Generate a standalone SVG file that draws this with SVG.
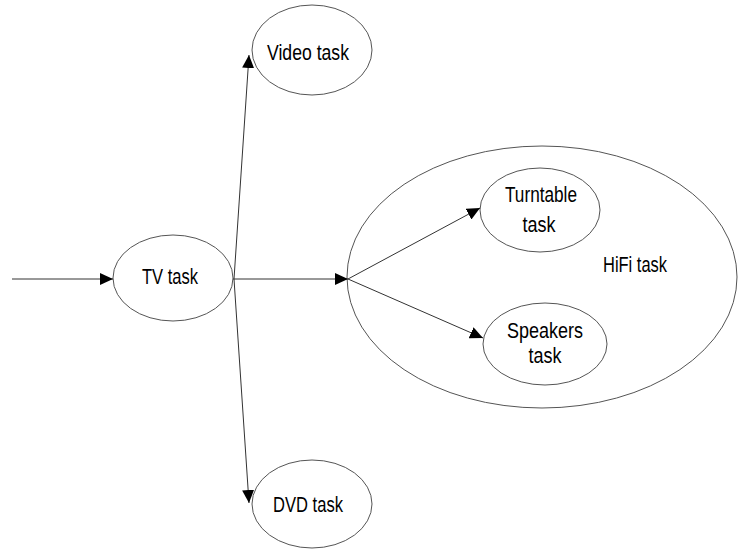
<svg xmlns="http://www.w3.org/2000/svg" width="743" height="552" viewBox="0 0 743 552">
<style>
.n{fill:#fff;stroke:#555;stroke-width:1}
.t{font-family:"Liberation Sans",Arial,sans-serif;font-size:22px;fill:#000;text-anchor:middle}
.c{stroke:#333;stroke-width:1;fill:none;marker-end:url(#ah)}
</style>
<defs>
<marker id="ah" markerUnits="userSpaceOnUse" markerWidth="14" markerHeight="12" refX="13" refY="6" orient="auto">
<path d="M0,0 L13,6 L0,12 Z" fill="#000"/>
</marker>
</defs>
<rect width="743" height="552" fill="#fff"/>
<g id="hifi"><ellipse class="n" cx="542" cy="277" rx="195" ry="131"/><text class="t" x="635" y="272" textLength="64" lengthAdjust="spacingAndGlyphs">HiFi task</text></g>
<g id="tv"><ellipse class="n" cx="173" cy="278" rx="60" ry="43"/><text class="t" x="170" y="284" textLength="56" lengthAdjust="spacingAndGlyphs">TV task</text></g>
<g id="video"><ellipse class="n" cx="312" cy="50" rx="60" ry="45"/><text class="t" x="308" y="60" textLength="82" lengthAdjust="spacingAndGlyphs">Video task</text></g>
<g id="dvd"><ellipse class="n" cx="312" cy="504" rx="60" ry="44"/><text class="t" x="308" y="512" textLength="70" lengthAdjust="spacingAndGlyphs">DVD task</text></g>
<g id="turntable"><ellipse class="n" cx="540" cy="210" rx="60" ry="42"/><text class="t" x="541" y="202" textLength="72" lengthAdjust="spacingAndGlyphs">Turntable</text><text class="t" x="539" y="232" textLength="33" lengthAdjust="spacingAndGlyphs">task</text></g>
<g id="speakers"><ellipse class="n" cx="545" cy="344" rx="62" ry="41"/><text class="t" x="545" y="338" textLength="76" lengthAdjust="spacingAndGlyphs">Speakers</text><text class="t" x="545" y="363" textLength="33" lengthAdjust="spacingAndGlyphs">task</text></g>
<g id="connectors">
<line class="c" x1="12" y1="279" x2="113" y2="279"/>
<line class="c" x1="233" y1="279" x2="348" y2="279"/>
<line class="c" x1="234" y1="279" x2="249" y2="55"/>
<line class="c" x1="234" y1="279" x2="249" y2="503"/>
<line class="c" x1="348" y1="279" x2="480" y2="208"/>
<line class="c" x1="348" y1="279" x2="483" y2="338"/>
</g>
</svg>
